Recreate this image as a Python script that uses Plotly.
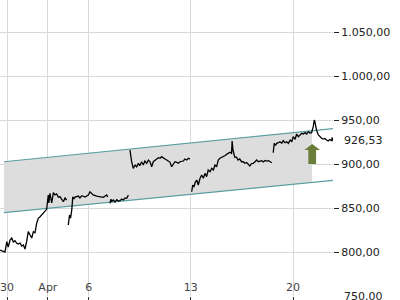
import numpy as np
import plotly.graph_objects as go

# Time in trading-day units (0 = 30 Mar, 2 = 1 Apr, 4 = 6 Apr, 9 = 13 Apr, 14 = 20 Apr)
t = [-0.34, -0.18, -0.10, -0.01, 0.06, 0.15, 0.23, 0.31, 0.39, 0.47, 0.55, 0.64, 0.72, 0.80, 0.88, 0.96,
     1.04, 1.13, 1.21, 1.29, 1.37, 1.45, 1.53, 1.62, 1.70, 1.78, 1.86, 1.94,
     2.02, 2.05, 2.10, 2.19, 2.27, 2.35, 2.43, 2.51, 2.59, 2.68, 2.76, 2.84, 2.92, None,
     3.00, 3.06, 3.11, 3.17, 3.22, 3.28, 3.33, 3.49, 3.57, 3.66, 3.82, 3.98, 4.06, 4.15, 4.22, 4.39,
     4.55, 4.71, 4.88, 4.93, None,
     5.04, 5.09, 5.12, 5.20, 5.29, 5.37, 5.45, 5.53, 5.61, 5.69, 5.78, 5.86, 5.94, None,
     6.02, 6.06, 6.10, 6.18, 6.27, 6.35, 6.43, 6.50, 6.59, 6.67, 6.75, 6.84, 6.92, 7.00, 7.08, 7.16,
     7.24, 7.33, 7.41, 7.49, 7.57, 7.65, 7.73, 7.82, 7.90, 7.98, 8.06, 8.14, 8.22, 8.31, 8.39, 8.47,
     8.63, 8.71, 8.80, 8.88, 8.96, None,
     9.04, 9.09, 9.15, 9.22, 9.29, 9.36, 9.45, 9.53, 9.61, 9.69, 9.77, 9.85, 9.94, 10.02, 10.10, 10.18,
     10.26, 10.34, 10.42, 10.50, 10.58, 10.66, 10.75, 10.83, 10.91, 10.99, 11.02, 11.06, 11.15, 11.23,
     11.31, 11.39, 11.48, 11.56, 11.64, 11.73, 11.81, 11.89, 11.97, 12.05, 12.14, 12.22, 12.30, 12.38,
     12.47, 12.55, 12.63, 12.71, 12.79, 12.87, 12.96, None,
     13.03, 13.08, 13.14, 13.20, 13.28, 13.36, 13.45, 13.52, 13.61, 13.69, 13.77, 13.86, 13.94, 14.01,
     14.10, 14.18, 14.26, 14.34, 14.43, 14.50, 14.59, 14.67, 14.75, 14.83, 14.91, 14.99, 15.04, 15.07,
     15.15, 15.24, 15.32, 15.40, 15.48, 15.56, 15.64, 15.72, 15.80, 15.89, 15.91, 15.95]

price = [802.3, 801.1, 800.0, 811.7, 805.7, 813.6, 815.9, 811.4, 812.8, 810.2, 809.1, 810.2, 806.8, 807.9, 803.4, 811.7,
         823.1, 819.3, 815.9, 823.1, 821.9, 832.6, 838.3, 840.1, 842.0, 844.0, 845.8, 848.5,
         864.8, 855.7, 866.7, 855.7, 867.4, 864.8, 865.9, 862.5, 862.8, 860.2, 857.2, 861.4, 859.1, None,
         830.7, 842.0, 838.6, 847.7, 862.8, 860.2, 862.5, 863.6, 861.4, 864.0, 862.5, 864.8, 868.5, 865.9, 864.8, 863.6,
         862.8, 862.2, 864.8, 862.5, None,
         855.3, 860.2, 857.2, 859.1, 856.8, 859.4, 858.0, 858.3, 860.2, 859.1, 861.4, 861.0, 864.8, None,
         915.9, 908.0, 902.6, 895.1, 898.9, 896.9, 900.8, 898.1, 902.6, 898.9, 903.4, 900.8, 904.5, 902.6, 896.9, 902.6,
         904.5, 905.7, 907.2, 906.5, 908.3, 906.5, 905.7, 904.5, 903.4, 901.9, 896.9, 899.7, 902.6, 901.9, 900.8, 902.6,
         903.4, 905.7, 904.5, 906.5, 905.7, None,
         868.5, 876.1, 873.9, 879.5, 881.8, 876.1, 883.8, 887.5, 883.8, 889.4, 885.6, 893.2, 891.3, 895.1, 893.2, 898.9,
         896.9, 904.5, 906.5, 907.2, 908.3, 909.4, 911.0, 912.2, 913.3, 912.2, 926.1, 915.9, 907.4, 908.0,
         904.5, 905.7, 902.6, 902.6, 900.8, 901.7, 900.0, 897.7, 900.6, 900.8, 902.6, 904.5, 902.6, 903.4,
         903.8, 902.3, 904.0, 903.4, 903.8, 902.8, 901.5, None,
         912.8, 923.5, 921.0, 923.5, 924.2, 925.3, 923.5, 926.5, 924.2, 925.3, 923.5, 927.3, 925.3, 931.0,
         928.1, 934.1, 931.0, 933.0, 934.9, 934.1, 935.6, 934.1, 936.7, 935.2, 935.6, 942.4, 950.0, 948.1,
         938.6, 933.0, 931.0, 929.2, 928.4, 929.0, 927.3, 926.1, 927.8, 926.5, 930.1, 926.53]

# Trend channel (start / end)
chan_t = [-0.15, 15.96]
chan_upper = [902.6, 940.3]
chan_lower = [844.8, 881.3]
shade_end = 14.93

# Signal arrow
arrow_center = 14.94
arrow_base = 900.0
arrow_neck = 915.9
arrow_tip = 922.7
arrow_head_half = 0.385
arrow_shaft_half = 0.19

last_price = 926.53

tick_vals = [0, 2, 4, 9, 14]
tick_text = ["30", "Apr", "6", "13", "20"]
y_ticks = [750, 800, 850, 900, 950, 1000, 1050]


def de_fmt(v):
    s = f"{v:,.2f}"
    return s.replace(",", "X").replace(".", ",").replace("X", ".")


fig = go.Figure()

# shaded channel area
up_end = float(np.interp(shade_end, chan_t, chan_upper))
lo_end = float(np.interp(shade_end, chan_t, chan_lower))
fig.add_trace(go.Scatter(
    x=[chan_t[0], shade_end, shade_end, chan_t[0], chan_t[0]],
    y=[chan_upper[0], up_end, lo_end, chan_lower[0], chan_upper[0]],
    fill="toself", fillcolor="#dddddd", line=dict(width=0), mode="lines",
    hoverinfo="skip", showlegend=False))

# channel lines
for vals in (chan_upper, chan_lower):
    fig.add_trace(go.Scatter(x=chan_t, y=vals, mode="lines",
                             line=dict(color="#5a9fa2", width=1.2),
                             hoverinfo="skip", showlegend=False))

# arrow
c, h, s = arrow_center, arrow_head_half, arrow_shaft_half
fig.add_trace(go.Scatter(
    x=[c - s, c - s, c - h, c, c + h, c + s, c + s, c - s],
    y=[arrow_base, arrow_neck, arrow_neck, arrow_tip, arrow_neck, arrow_neck, arrow_base, arrow_base],
    fill="toself", fillcolor="#6b7d3b", line=dict(width=0), mode="lines",
    hoverinfo="skip", showlegend=False))

# price line
fig.add_trace(go.Scatter(x=t, y=price, mode="lines",
                         line=dict(color="black", width=1.3),
                         connectgaps=False, showlegend=False))

fig.add_annotation(x=1, xref="paper", y=last_price, yref="y",
                   text=de_fmt(last_price), showarrow=False, xanchor="left", xshift=9,
                   font=dict(family="DejaVu Sans", size=11, color="#222"))
# bottom tick label, which sits at the edge of the page
fig.add_annotation(x=1, xref="paper", y=y_ticks[0], yref="y",
                   text=de_fmt(y_ticks[0]), showarrow=False, xanchor="left", xshift=9,
                   font=dict(family="DejaVu Sans", size=11, color="#222"))

fig.update_layout(
    width=400, height=300,
    margin=dict(l=0, r=67, t=0, b=4),
    paper_bgcolor="white", plot_bgcolor="white",
    separators=",.",
    font=dict(family="DejaVu Sans", size=11, color="#222"),
)
fig.update_xaxes(range=[-0.343, 15.957], tickvals=tick_vals, ticktext=tick_text,
                 showgrid=True, gridcolor="#d9d9d9", gridwidth=1,
                 ticks="outside", ticklen=4, tickcolor="#333",
                 ticklabelposition="inside", zeroline=False, showline=False,
                 automargin=False)
fig.update_yaxes(range=[750, 1086.4], side="right", tickvals=y_ticks,
                 tickformat=",.2f", showgrid=True, gridcolor="#d9d9d9", gridwidth=1,
                 ticks="outside", ticklen=5, tickcolor="#222",
                 ticklabeloverflow="allow", automargin=False,
                 zeroline=False, showline=False)

fig.write_html("out.html")
